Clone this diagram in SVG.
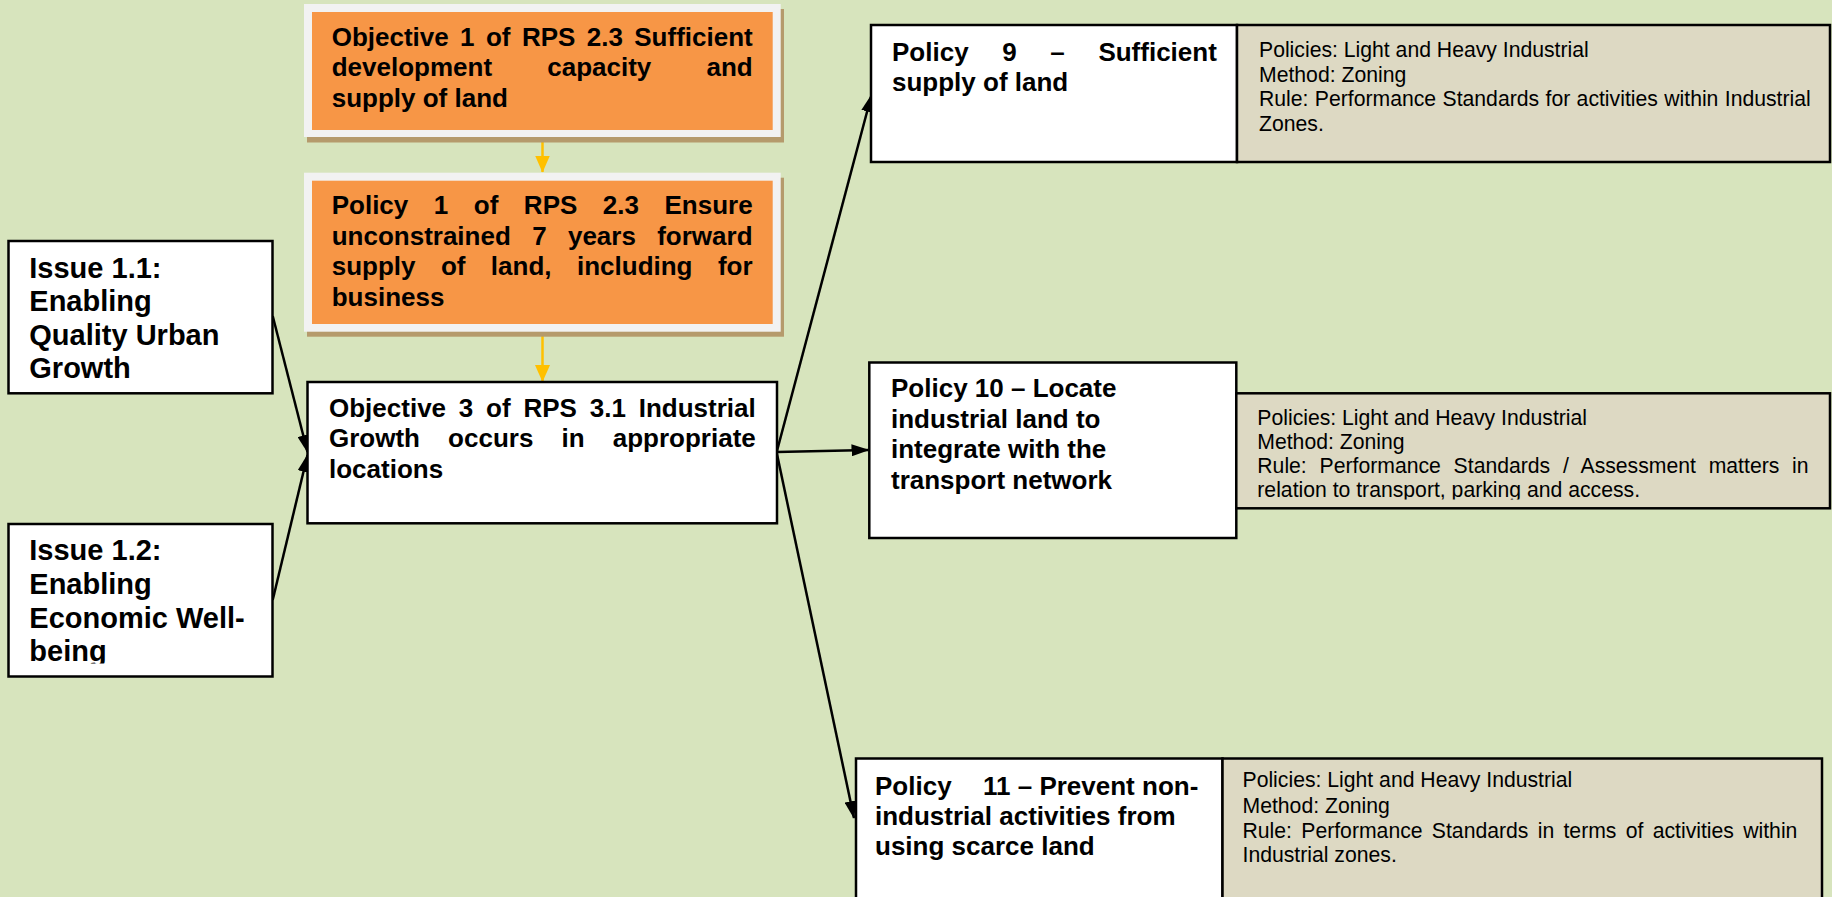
<svg xmlns="http://www.w3.org/2000/svg" width="1832" height="897" viewBox="0 0 1832 897">
<style>
.bg{fill:#d7e4bd}
.frame{fill:#f2f2f2}
.shadow{fill:#b59a6c}
.orange{fill:#f79646}
.box{fill:#ffffff;stroke:#000000;stroke-width:2.5}
.beige{fill:#ddd9c3;stroke:#000000;stroke-width:2.5}
.t{font-family:"Liberation Sans",Arial,sans-serif;font-weight:bold;font-size:26px;fill:#000000}
.ti{font-family:"Liberation Sans",Arial,sans-serif;font-weight:bold;font-size:29px;fill:#000000}
.tr{font-family:"Liberation Sans",Arial,sans-serif;font-weight:normal;font-size:21.2px;fill:#000000}
.conn{stroke:#000000;stroke-width:2.5;fill:none;marker-end:url(#ah)}
.yconn{stroke:#ffc000;stroke-width:2.5;fill:none;marker-end:url(#yah)}
</style>
<defs>
<marker id="ah" markerUnits="userSpaceOnUse" markerWidth="18" markerHeight="12" viewBox="0 0 18 12" refX="17" refY="6" orient="auto">
<path d="M0,0 L18,6 L0,12 z" fill="#000000"/>
</marker>
<marker id="yah" markerUnits="userSpaceOnUse" markerWidth="17" markerHeight="15" viewBox="0 0 17 15" refX="16.5" refY="7.5" orient="auto">
<path d="M0,0 L17,7.5 L0,15 z" fill="#ffc000"/>
</marker>
<clipPath id="clipP10"><rect x="1236" y="393" width="596" height="106.5"/></clipPath>
<clipPath id="clipI12"><rect x="8" y="524" width="266" height="139.5"/></clipPath>
</defs>
<rect class="bg" x="0" y="0" width="1832" height="897"/>

<g id="connectors">
<line class="yconn" x1="542.5" y1="137" x2="542.5" y2="172"/>
<line class="yconn" x1="542.5" y1="332" x2="542.5" y2="381.5"/>
<line class="conn" x1="272.7" y1="316" x2="307.5" y2="452"/>
<line class="conn" x1="272.7" y1="600" x2="307.5" y2="455"/>
<line class="conn" x1="776.7" y1="452" x2="871.5" y2="95"/>
<line class="conn" x1="776.7" y1="452" x2="868.5" y2="450"/>
<line class="conn" x1="776.7" y1="452.7" x2="854" y2="818"/>
</g>

<g id="objective1">
<rect class="shadow" x="307" y="9" width="477" height="133.5"/>
<rect class="frame" x="304" y="4" width="476.7" height="133"/>
<rect class="orange" x="312" y="12" width="460.7" height="118"/>
<text class="t"><tspan x="331.7" y="45.5" word-spacing="4.16">Objective 1 of RPS 2.3 Sufficient</tspan><tspan x="331.7" y="76" word-spacing="47.95">development capacity and</tspan><tspan x="331.7" y="106.5">supply of land</tspan></text>
</g>

<g id="policy1">
<rect class="shadow" x="307" y="177.7" width="477" height="159"/>
<rect class="frame" x="304" y="172.7" width="476.7" height="159"/>
<rect class="orange" x="312" y="180.7" width="460.7" height="143.3"/>
<text class="t"><tspan x="331.7" y="214" word-spacing="18.3">Policy 1 of RPS 2.3 Ensure</tspan><tspan x="331.7" y="244.5" word-spacing="14.1">unconstrained 7 years forward</tspan><tspan x="331.7" y="275" word-spacing="18.2">supply of land, including for</tspan><tspan x="331.7" y="305.5">business</tspan></text>
</g>

<g id="objective3">
<rect class="box" x="307.5" y="382" width="469.5" height="141.3"/>
<text class="t"><tspan x="329" y="416.5" word-spacing="5.58">Objective 3 of RPS 3.1 Industrial</tspan><tspan x="329" y="447" word-spacing="20.9">Growth occurs in appropriate</tspan><tspan x="329" y="477.5">locations</tspan></text>
</g>

<g id="issue11">
<rect class="box" x="8.5" y="241" width="264" height="152.3"/>
<text class="ti"><tspan x="29.3" y="277.5">Issue 1.1:</tspan><tspan x="29.3" y="311">Enabling</tspan><tspan x="29.3" y="344.5">Quality Urban</tspan><tspan x="29.3" y="378">Growth</tspan></text>
</g>

<g id="issue12">
<rect class="box" x="8.5" y="524" width="264" height="152.5"/>
<text class="ti" clip-path="url(#clipI12)"><tspan x="29.3" y="560">Issue 1.2:</tspan><tspan x="29.3" y="593.5">Enabling</tspan><tspan x="29.3" y="627.5">Economic Well-</tspan><tspan x="29.3" y="661">being</tspan></text>
</g>

<g id="policy9">
<rect class="box" x="871" y="25" width="366" height="137"/>
<rect class="beige" x="1237" y="25" width="593" height="137"/>
<text class="t"><tspan x="892" y="60.7" word-spacing="26.4">Policy 9 – Sufficient</tspan><tspan x="892" y="90.5">supply of land</tspan></text>
<text class="tr"><tspan x="1259" y="56.7">Policies: Light and Heavy Industrial</tspan><tspan x="1259" y="81.5">Method: Zoning</tspan><tspan x="1259" y="106" word-spacing="0.5">Rule: Performance Standards for activities within Industrial</tspan><tspan x="1259" y="130.5">Zones.</tspan></text>
</g>

<g id="policy10">
<rect class="box" x="869.3" y="362.5" width="367" height="175.5"/>
<rect class="beige" x="1236.3" y="393.3" width="593.7" height="115"/>
<text class="t"><tspan x="891" y="396.7">Policy 10 – Locate</tspan><tspan x="891" y="427.5">industrial land to</tspan><tspan x="891" y="458.3">integrate with the</tspan><tspan x="891" y="489">transport network</tspan></text>
<text class="tr" clip-path="url(#clipP10)"><tspan x="1257.3" y="425">Policies: Light and Heavy Industrial</tspan><tspan x="1257.3" y="449.3">Method: Zoning</tspan><tspan x="1257.3" y="473.3" word-spacing="6.9">Rule: Performance Standards / Assessment matters in</tspan><tspan x="1257.3" y="497.3">relation to transport, parking and access.</tspan></text>
</g>

<g id="policy11">
<rect class="box" x="856" y="758.5" width="366.5" height="150"/>
<rect class="beige" x="1222.5" y="758.5" width="599.5" height="150"/>
<text class="t"><tspan x="875" y="795">Policy</tspan><tspan x="983" y="795">11 – Prevent non-</tspan><tspan x="875" y="825">industrial activities from</tspan><tspan x="875" y="855">using scarce land</tspan></text>
<text class="tr"><tspan x="1242.5" y="787">Policies: Light and Heavy Industrial</tspan><tspan x="1242.5" y="812.5">Method: Zoning</tspan><tspan x="1242.5" y="837.5" word-spacing="3.4">Rule: Performance Standards in terms of activities within</tspan><tspan x="1242.5" y="862">Industrial zones.</tspan></text>
</g>
</svg>
